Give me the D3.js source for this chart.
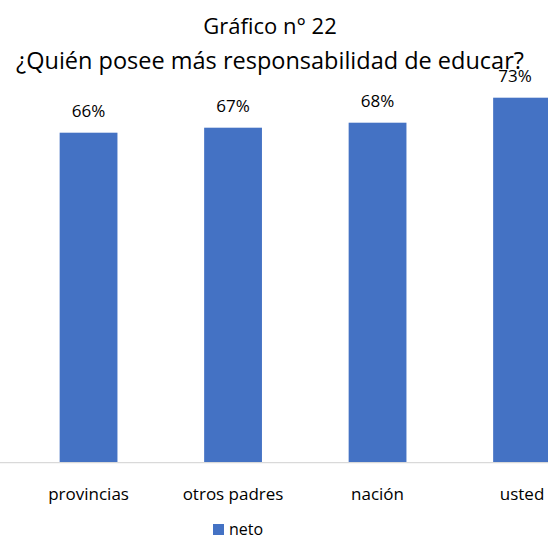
<!DOCTYPE html>
<html>
<head>
<meta charset="utf-8">
<script src="https://cdn.jsdelivr.net/npm/d3@7"></script>
<style>
  body { margin: 0; background: #fff; }
  svg { display: block; font-family: "Open Sans", sans-serif; }
</style>
</head>
<body>
<div id="chart"></div>
<script>
// data
var categories = ["provincias", "otros padres", "nación", "usted"];
var neto = [0.66, 0.67, 0.68, 0.73];
var seriesName = "neto";
var titleLines = ["Gráfico n° 22", "¿Quién posee más responsabilidad de educar?"];

var width = 548, height = 539;
var baseY = 462.7;

var svg = d3.select("#chart").append("svg")
    .attr("width", width)
    .attr("height", height);

// scales
var x = d3.scaleBand()
    .domain(categories)
    .range([16.3, 594.3])
    .paddingInner(0.6)
    .paddingOuter(0.3);

var y = d3.scaleLinear()
    .domain([0, 0.8])
    .range([baseY, baseY - 400]);

var color = "#4472C4";

// title
svg.append("g")
    .attr("class", "title")
    .selectAll("text")
    .data(titleLines)
    .enter().append("text")
      .attr("x", 270)
      .attr("y", function(d, i) { return i == 0 ? 34 : 69; })
      .attr("text-anchor", "middle")
      .style("font-size", function(d, i) { return i == 0 ? "22px" : "23.5px"; })
      .style("fill", "#000")
      .text(function(d) { return d; });

// bars
svg.append("g")
    .selectAll("rect")
    .data(neto)
    .enter().append("rect")
      .attr("x", function(d, i) { return x(categories[i]); })
      .attr("y", function(d) { return y(d); })
      .attr("width", x.bandwidth())
      .attr("height", function(d) { return y(0) - y(d); })
      .style("fill", color);

// value labels
svg.append("g")
    .selectAll("text")
    .data(neto)
    .enter().append("text")
      .attr("x", function(d, i) { return x(categories[i]) + x.bandwidth() / 2 + (i == 3 ? -7 : 0); })
      .attr("y", function(d) { return y(d) - 16; })
      .attr("text-anchor", "middle")
      .style("font-size", "17px")
      .style("fill", "#000")
      .text(function(d) { return Math.round(d * 100) + "%"; });

// x axis (just the line + labels)
var xAxis = d3.axisBottom(x).tickSize(0).tickPadding(25);
var gx = svg.append("g")
    .attr("class", "x axis")
    .attr("transform", "translate(0," + baseY + ")")
    .call(xAxis);
gx.select(".domain").remove();
gx.append("line")
    .attr("x1", 0).attr("x2", width)
    .attr("y1", 0).attr("y2", 0)
    .style("stroke", "#d9d9d9")
    .style("stroke-width", 1.3);
gx.selectAll(".tick text")
    .style("font-family", "Open Sans, sans-serif")
    .style("font-size", "17px")
    .style("fill", "#000");

// legend
var legend = svg.append("g")
    .attr("class", "legend")
    .attr("transform", "translate(213,524)");
legend.append("rect")
    .attr("width", 11).attr("height", 11)
    .style("fill", color);
legend.append("text")
    .attr("x", 16).attr("y", 11)
    .style("font-size", "16px")
    .style("fill", "#000")
    .text(seriesName);
</script>
</body>
</html>
